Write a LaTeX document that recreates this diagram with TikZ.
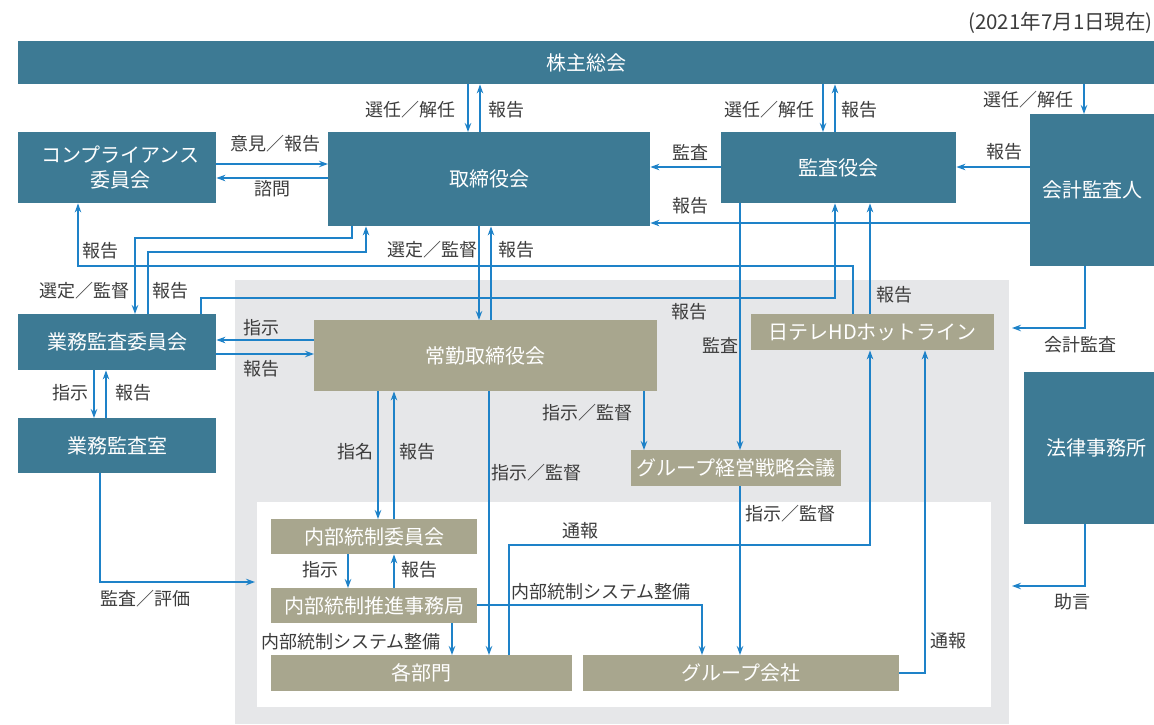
\documentclass[tikz,border=0pt]{standalone}
\usepackage{fontspec}
\setmainfont{Noto Sans CJK JP}
\usetikzlibrary{arrows.meta}
\definecolor{tealc}{HTML}{3D7A94}
\definecolor{tanc}{HTML}{A8A68E}
\definecolor{bgc}{HTML}{E6E7E9}
\definecolor{arrc}{HTML}{1E82C8}
\definecolor{txtc}{HTML}{3C3C3C}
\begin{document}
\begin{tikzpicture}[x=1pt,y=-1pt,
  tbox/.style={fill=tealc,text=white,inner sep=0pt,anchor=north west,align=center,font=\fontsize{20}{25}\selectfont},
  gbox/.style={fill=tanc,text=white,inner sep=0pt,anchor=north west,align=center,font=\fontsize{20}{25}\selectfont},
  lbl/.style={text=txtc,inner sep=0pt,font=\fontsize{18}{22}\selectfont},
  arr/.style={draw=arrc,line width=1.3pt,-{Stealth[length=9pt,width=6.5pt]}}]
\useasboundingbox (0,0) rectangle (1154,724);
% background regions
\fill[bgc] (235,280) rectangle (1009,724);
\fill[white] (257,502) rectangle (991,707);
% title
\node[lbl,anchor=east,font=\fontsize{20.5}{24}\selectfont] (title) at (1153,23) {(2021年7月1日現在)};
% boxes
\node[tbox,minimum width=1136,minimum height=43] (kabu) at (18,41) {株主総会};
\node[tbox,minimum width=198,minimum height=71] (comp) at (18,132) {\hspace{6pt}コンプライアンス\\\hspace{6pt}委員会};
\node[tbox,minimum width=322,minimum height=94] (tori) at (328,132) {取締役会};
\node[tbox,minimum width=235,minimum height=71] (kansa) at (721,132) {監査役会};
\node[tbox,minimum width=124,minimum height=152] (kaikei) at (1030,114) {会計監査人};
\node[tbox,minimum width=198,minimum height=56] (gyoi) at (18,314) {業務監査委員会};
\node[tbox,minimum width=198,minimum height=55] (gyoshitsu) at (18,418) {業務監査室};
\node[gbox,minimum width=343,minimum height=71] (jokin) at (314,320) {常勤取締役会};
\node[gbox,minimum width=243,minimum height=36] (hotline) at (751,314) {日テレHDホットライン};
\node[gbox,minimum width=210,minimum height=36] (senryaku) at (631,450) {グループ経営戦略会議};
\node[tbox,minimum width=130,minimum height=152] (houritsu) at (1024,372) {\hspace{14pt}法律事務所};
\node[gbox,minimum width=206,minimum height=35] (naibu) at (271,519) {内部統制委員会};
\node[gbox,minimum width=206,minimum height=35] (suishin) at (271,588) {内部統制推進事務局};
\node[gbox,minimum width=301,minimum height=36] (kakubu) at (271,655) {各部門};
\node[gbox,minimum width=316,minimum height=36] (group) at (583,655) {グループ会社};
% free ends
\coordinate (innerL) at (255,582);
\coordinate (grayR1) at (1012,328);
\coordinate (grayR2) at (1012,586);
% connectors
\draw[arr] (kabu.south -| 468,0) -- (tori.north -| 468,0);
\draw[arr] (tori.north -| 480,0) -- (kabu.south -| 480,0);
\draw[arr] (kabu.south -| 823,0) -- (kansa.north -| 823,0);
\draw[arr] (kansa.north -| 835,0) -- (kabu.south -| 835,0);
\draw[arr] (kabu.south -| 1084,0) -- (kaikei.north -| 1084,0);
\draw[arr] (comp.east |- 0,164) -- (tori.west |- 0,164);
\draw[arr] (tori.west |- 0,178) -- (comp.east |- 0,178);
\draw[arr] (kansa.west |- 0,167) -- (tori.east |- 0,167);
\draw[arr] (kaikei.west |- 0,167) -- (kansa.east |- 0,167);
\draw[arr] (kaikei.west |- 0,223) -- (tori.east |- 0,223);
\draw[arr] (tori.south -| 352,0) |- (135,238) -- (gyoi.north -| 135,0);
\draw[arr] (gyoi.north -| 148,0) |- (366,252) -- (tori.south -| 366,0);
\draw[arr] (hotline.north -| 853,0) |- (78,266) -- (comp.south -| 78,0);
\draw[arr] (gyoi.north -| 201,0) |- (835,298) -- (kansa.south -| 835,0);
\draw[arr] (hotline.north -| 870,0) -- (kansa.south -| 870,0);
\draw[arr] (kansa.south -| 740,0) -- (senryaku.north -| 740,0);
\draw[arr] (tori.south -| 479,0) -- (jokin.north -| 479,0);
\draw[arr] (jokin.north -| 491,0) -- (tori.south -| 491,0);
\draw[arr] (jokin.west |- 0,340) -- (gyoi.east |- 0,340);
\draw[arr] (gyoi.east |- 0,354) -- (jokin.west |- 0,354);
\draw[arr] (gyoi.south -| 94,0) -- (gyoshitsu.north -| 94,0);
\draw[arr] (gyoshitsu.north -| 106,0) -- (gyoi.south -| 106,0);
\draw[arr] (gyoshitsu.south -| 100,0) |- (innerL);
\draw[arr] (jokin.south -| 378,0) -- (naibu.north -| 378,0);
\draw[arr] (naibu.north -| 394,0) -- (jokin.south -| 394,0);
\draw[arr] (jokin.south -| 489,0) -- (kakubu.north -| 489,0);
\draw[arr] (jokin.south -| 644,0) -- (senryaku.north -| 644,0);
\draw[arr] (senryaku.south -| 740,0) -- (group.north -| 740,0);
\draw[arr] (naibu.south -| 348,0) -- (suishin.north -| 348,0);
\draw[arr] (suishin.north -| 394,0) -- (naibu.south -| 394,0);
\draw[arr] (suishin.south -| 452,0) -- (kakubu.north -| 452,0);
\draw[arr] (suishin.east |- 0,605) -| (group.north -| 702,0);
\draw[arr] (kakubu.north -| 509,0) |- (870,545) -- (hotline.south -| 870,0);
\draw[arr] (group.east |- 0,673) -| (hotline.south -| 925,0);
\draw[arr] (kaikei.south -| 1085,0) |- (grayR1);
\draw[arr] (houritsu.south -| 1085,0) |- (grayR2);
% labels
\node[lbl] (l1) at (410,110) {選任／解任};
\node[lbl] (l2) at (506,110) {報告};
\node[lbl] (l3) at (769,110) {選任／解任};
\node[lbl] (l4) at (859,110) {報告};
\node[lbl] (l5) at (1028,100) {選任／解任};
\node[lbl] (l6) at (275,144) {意見／報告};
\node[lbl] (l7) at (272,189) {諮問};
\node[lbl] (l8) at (690,152) {監査};
\node[lbl] (l9) at (1004,152) {報告};
\node[lbl] (l10) at (690,206) {報告};
\node[lbl] (l11) at (100,251) {報告};
\node[lbl] (l12) at (432,250) {選定／監督};
\node[lbl] (l13) at (516,250) {報告};
\node[lbl] (l14) at (84,291) {選定／監督};
\node[lbl] (l15) at (170,291) {報告};
\node[lbl] (l16) at (689,312) {報告};
\node[lbl] (l17) at (894,295) {報告};
\node[lbl] (l18) at (720,345) {監査};
\node[lbl] (l19) at (261,328) {指示};
\node[lbl] (l20) at (261,369) {報告};
\node[lbl] (l21) at (70,393) {指示};
\node[lbl] (l22) at (133,393) {報告};
\node[lbl] (l23) at (355,452) {指名};
\node[lbl] (l24) at (417,452) {報告};
\node[lbl] (l25) at (536,473) {指示／監督};
\node[lbl] (l26) at (587,413) {指示／監督};
\node[lbl] (l27) at (790,514) {指示／監督};
\node[lbl] (l28) at (580,531) {通報};
\node[lbl] (l29) at (320,570) {指示};
\node[lbl] (l30) at (419,570) {報告};
\node[lbl] (l31) at (145,599) {監査／評価};
\node[lbl] (l32) at (601,592) {内部統制システム整備};
\node[lbl] (l33) at (351,642) {内部統制システム整備};
\node[lbl] (l34) at (948,641) {通報};
\node[lbl] (l35) at (1080,345) {会計監査};
\node[lbl] (l36) at (1072,602) {助言};
\end{tikzpicture}
\end{document}
